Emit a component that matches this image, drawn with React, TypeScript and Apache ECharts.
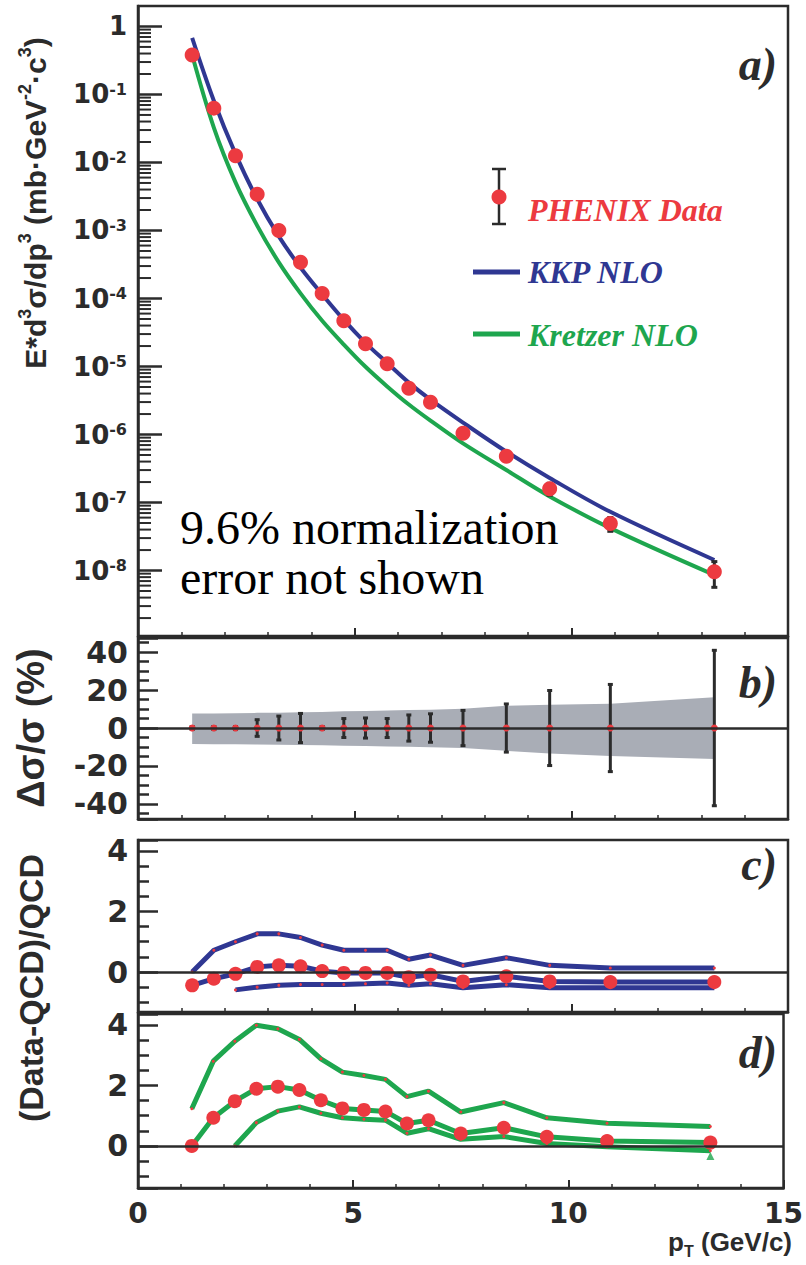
import React, { useEffect, useRef } from "react";
import * as echarts from "echarts";

// ---------------- data ----------------
const pT = [1.25, 1.75, 2.25, 2.75, 3.25, 3.75, 4.25, 4.75, 5.25, 5.75, 6.25, 6.75, 7.5, 8.5, 9.5, 10.9, 13.3];
const crossSection = [0.38, 0.063, 0.0126, 3.4e-3, 1.0e-3, 3.4e-4, 1.18e-4, 4.7e-5, 2.16e-5, 1.1e-5, 4.8e-6, 2.97e-6, 1.04e-6, 4.8e-7, 1.6e-7, 4.9e-8, 9.6e-9];
const kkpNLO = [0.68, 0.081, 0.0134, 2.9e-3, 8.2e-4, 2.86e-4, 1.15e-4, 4.85e-5, 2.23e-5, 1.13e-5, 5.8e-6, 3.26e-6, 1.5e-6, 5.6e-7, 2.3e-7, 7.3e-8, 1.43e-8];
const kretzerNLO = [0.38, 0.0326, 5.1e-3, 1.18e-3, 3.4e-4, 1.19e-4, 4.7e-5, 2.1e-5, 9.9e-6, 5.1e-6, 2.76e-6, 1.6e-6, 7.4e-7, 3.0e-7, 1.23e-7, 4.2e-8, 8.6e-9];
const statErrPct = [0.8, 0.8, 0.8, 4.4, 6.3, 7.7, 0.8, 5.0, 5.3, 5.0, 6.9, 7.5, 9.3, 12.7, 19.8, 23, 41];
const sysBandUpper = [7.6, 7.7, 7.8, 8.0, 8.1, 8.3, 8.5, 8.8, 9.0, 9.3, 9.5, 9.7, 10.2, 11.8, 12.3, 12.8, 16.2];
const sysBandLower = [-8.4, -8.5, -8.6, -8.7, -8.8, -9.0, -9.1, -9.3, -9.5, -9.7, -9.9, -10.1, -10.5, -12.0, -13.5, -14.8, -16.3];
const kkpRatio = [-0.44, -0.22, -0.06, 0.17, 0.22, 0.19, 0.03, -0.03, -0.03, -0.03, -0.17, -0.09, -0.31, -0.14, -0.31, -0.33, -0.33];
const kkpUpper = [0, 0.72, 1.0, 1.26, 1.26, 1.14, 0.89, 0.72, 0.72, 0.72, 0.42, 0.56, 0.22, 0.47, 0.22, 0.13, 0.13];
const kkpLower = [null, null, -0.59, -0.5, -0.44, -0.41, -0.41, -0.41, -0.39, -0.36, -0.44, -0.39, -0.52, -0.42, -0.52, -0.52, -0.52];
const kretzerRatio = [0, 0.93, 1.48, 1.89, 1.96, 1.85, 1.51, 1.24, 1.19, 1.14, 0.74, 0.85, 0.41, 0.6, 0.3, 0.16, 0.11];
const kretzerUpper = [1.23, 2.8, 3.46, 3.99, 3.87, 3.52, 2.88, 2.44, 2.33, 2.2, 1.63, 1.81, 1.12, 1.43, 0.93, 0.75, 0.64];
const kretzerLower = [null, null, 0, 0.77, 1.15, 1.29, 1.08, 0.93, 0.88, 0.85, 0.42, 0.57, 0.22, 0.31, 0.08, -0.03, -0.16];
const kretzerEndMarker = [13.3, -0.33];
const xTickLabels = ["0", "5", "10", "15"];

// ---------------- styling ----------------
const SANS = '"Liberation Sans", Arial, Helvetica, sans-serif';
const WIDE = '"DejaVu Sans", "Liberation Sans", Arial, sans-serif';
const SERIF = '"Liberation Serif", "Times New Roman", serif';
const INK = "#2b2b2b";
const RED = "#ec3a40";
const BLUE = "#2f3792";
const GREEN = "#1ea64e";
const BAND = "#a9adb6";

const LEFT = 138;
const WIDTH = 650;

const pairs = (ys: (number | null)[]) =>
  pT.map((x, i) => [x, ys[i]]).filter((d) => d[1] !== null) as number[][];

function logMinorTickValues(): number[] {
  const out: number[] = [];
  for (let e = -9; e <= -1; e++) {
    for (let k = 2; k <= 9; k++) {
      const v = k * Math.pow(10, e);
      if (v > 1.09e-9 && v < 2) out.push(v);
    }
  }
  return out;
}

function xAxis(gridIndex: number, showLabel: boolean) {
  return {
    type: "value",
    gridIndex,
    min: 0,
    max: 15,
    interval: 5,
    axisLine: { show: true, onZero: false, lineStyle: { color: INK, width: 2.5 } },
    axisTick: { show: true, inside: true, length: 8, lineStyle: { color: INK, width: 2 } },
    minorTick: { show: true, splitNumber: 5, length: 4, lineStyle: { color: INK, width: 1.5 } },
    splitLine: { show: false },
    axisLabel: {
      show: showLabel,
      margin: 11,
      fontSize: 28,
      fontWeight: "bold",
      fontFamily: WIDE,
      color: INK,
      formatter: (v: number) => xTickLabels[Math.round(v / 5)] ?? String(v),
    },
  };
}

function linearY(gridIndex: number, min: number, max: number, split: number, minorSplit: number) {
  return {
    type: "value",
    gridIndex,
    min,
    max,
    splitNumber: split,
    axisLine: { show: true, onZero: false, lineStyle: { color: INK, width: 2.5 } },
    axisTick: { show: true, inside: true, length: 20, lineStyle: { color: INK, width: 2.5 } },
    minorTick: { show: true, splitNumber: minorSplit, length: 11, lineStyle: { color: INK, width: 2.5 } },
    splitLine: { show: false },
    axisLabel: {
      margin: 10,
      fontSize: 30,
      fontWeight: "bold",
      fontFamily: WIDE,
      color: INK,
      showMinLabel: false,
      showMaxLabel: false,
    },
  };
}

function errorBarSeries(xi: number, yi: number, data: number[][], cap: number, z: number) {
  return {
    type: "custom",
    xAxisIndex: xi,
    yAxisIndex: yi,
    z,
    silent: true,
    data,
    renderItem: (_p: any, api: any) => {
      const x = api.value(0);
      const top = api.coord([x, api.value(2)]);
      const bot = api.coord([x, api.value(1)]);
      const st = { stroke: INK, lineWidth: 3 };
      return {
        type: "group",
        children: [
          { type: "line", shape: { x1: top[0], y1: top[1], x2: bot[0], y2: bot[1] }, style: st },
          { type: "line", shape: { x1: top[0] - cap, y1: top[1], x2: top[0] + cap, y2: top[1] }, style: st },
          { type: "line", shape: { x1: bot[0] - cap, y1: bot[1], x2: bot[0] + cap, y2: bot[1] }, style: st },
        ],
      };
    },
  };
}

const zeroLine = {
  silent: true,
  symbol: "none",
  label: { show: false },
  lineStyle: { color: INK, width: 2.5, type: "solid" },
  data: [{ yAxis: 0 }],
};

function ratioPanel(gi: number, color: string, upper: (number | null)[], central: number[], lower: (number | null)[]) {
  const bandLine = (ys: (number | null)[]) => ({
    type: "line",
    xAxisIndex: gi,
    yAxisIndex: gi,
    z: 3,
    data: pairs(ys),
    showSymbol: true,
    symbol: "circle",
    symbolSize: 3,
    itemStyle: { color: RED },
    lineStyle: { color, width: 5 },
  });
  return [
    bandLine(upper),
    bandLine(lower),
    {
      type: "line",
      xAxisIndex: gi,
      yAxisIndex: gi,
      z: 4,
      data: pairs(central),
      showSymbol: true,
      symbol: "circle",
      symbolSize: 14,
      itemStyle: { color: RED },
      lineStyle: { color, width: 5 },
      markLine: zeroLine,
    },
  ];
}

function buildOption() {
  const bandData = [[pT[0], 0]];
  const series: any[] = [
    // panel a: ROOT-style log minor ticks
    {
      type: "custom",
      xAxisIndex: 0,
      yAxisIndex: 0,
      silent: true,
      z: 1,
      data: logMinorTickValues().map((v) => [0, v]),
      renderItem: (_p: any, api: any) => {
        const p = api.coord([0, api.value(1)]);
        return {
          type: "line",
          shape: { x1: p[0], y1: p[1], x2: p[0] + 13, y2: p[1] },
          style: { stroke: INK, lineWidth: 2 },
        };
      },
    },
    {
      type: "line",
      name: "KKP NLO",
      xAxisIndex: 0,
      yAxisIndex: 0,
      z: 2,
      smooth: 0.35,
      showSymbol: false,
      data: pairs(kkpNLO),
      lineStyle: { color: BLUE, width: 4 },
    },
    {
      type: "line",
      name: "Kretzer NLO",
      xAxisIndex: 0,
      yAxisIndex: 0,
      z: 2,
      smooth: 0.35,
      showSymbol: false,
      data: pairs(kretzerNLO),
      lineStyle: { color: GREEN, width: 4 },
    },
    errorBarSeries(
      0,
      0,
      pT.map((x, i) => [x, crossSection[i] * (1 - statErrPct[i] / 100), crossSection[i] * (1 + statErrPct[i] / 100)]),
      3,
      3
    ),
    {
      type: "scatter",
      name: "PHENIX Data",
      xAxisIndex: 0,
      yAxisIndex: 0,
      z: 4,
      symbolSize: 15,
      data: pairs(crossSection),
      itemStyle: { color: RED, opacity: 1 },
    },
    // panel b
    {
      type: "custom",
      xAxisIndex: 1,
      yAxisIndex: 1,
      z: 1,
      silent: true,
      data: bandData,
      renderItem: (_p: any, api: any) => {
        const pts: number[][] = [];
        pT.forEach((x, i) => pts.push(api.coord([x, sysBandUpper[i]])));
        for (let i = pT.length - 1; i >= 0; i--) pts.push(api.coord([pT[i], sysBandLower[i]]));
        return { type: "polygon", shape: { points: pts }, style: { fill: BAND } };
      },
    },
    errorBarSeries(1, 1, pT.map((x, i) => [x, -statErrPct[i], statErrPct[i]]), 2.5, 3),
    {
      type: "scatter",
      xAxisIndex: 1,
      yAxisIndex: 1,
      z: 4,
      symbolSize: 7,
      data: pT.map((x) => [x, 0]),
      itemStyle: { color: RED, opacity: 1 },
      markLine: zeroLine,
    },
    // panel c, d
    ...ratioPanel(2, BLUE, kkpUpper, kkpRatio, kkpLower),
    ...ratioPanel(3, GREEN, kretzerUpper, kretzerRatio, kretzerLower),
    {
      type: "scatter",
      xAxisIndex: 3,
      yAxisIndex: 3,
      z: 4,
      symbol: "triangle",
      symbolSize: 8,
      data: [kretzerEndMarker],
      itemStyle: { color: GREEN },
    },
  ];

  const richSup = {
    b: { fontSize: 26, fontWeight: "bold", fontFamily: WIDE, color: INK, lineHeight: 26, padding: [12, 0, 12, 0] },
    s: { fontSize: 16, fontWeight: "bold", fontFamily: WIDE, color: INK, lineHeight: 16, verticalAlign: "top" },
  };

  const titleRich = {
    b: { fontSize: 30, fontWeight: "bold", fontFamily: SANS, fill: INK, lineHeight: 30, padding: [9, 0, 0, 0] },
    s: { fontSize: 18, fontWeight: "bold", fontFamily: SANS, fill: INK, lineHeight: 18, verticalAlign: "top" },
  };

  const panelLabel = (txt: string, y: number) => ({
    type: "text",
    x: 777,
    y,
    z: 100,
    style: {
      text: txt,
      fontFamily: SERIF,
      fontStyle: "italic",
      fontWeight: "bold",
      fontSize: 46,
      fill: INK,
      align: "right",
      verticalAlign: "middle",
    },
  });

  const legendText = (txt: string, y: number, color: string) => ({
    type: "text",
    x: 528,
    y,
    z: 100,
    style: {
      text: txt,
      fontFamily: SERIF,
      fontStyle: "italic",
      fontWeight: "bold",
      fontSize: 32,
      fill: color,
      align: "left",
      verticalAlign: "middle",
    },
  });

  const rotatedTitle = (txt: string, y: number, size: number) => ({
    type: "text",
    x: 31,
    y,
    rotation: Math.PI / 2,
    z: 100,
    style: {
      text: txt,
      fontFamily: SANS,
      fontWeight: "bold",
      fontSize: size,
      fill: INK,
      align: "center",
      verticalAlign: "middle",
    },
  });

  const graphic: any[] = [
    // legend
    { type: "line", z: 100, shape: { x1: 499, y1: 169, x2: 499, y2: 224 }, style: { stroke: INK, lineWidth: 2.5 } },
    { type: "line", z: 100, shape: { x1: 492, y1: 169, x2: 506, y2: 169 }, style: { stroke: INK, lineWidth: 2.5 } },
    { type: "line", z: 100, shape: { x1: 492, y1: 224, x2: 506, y2: 224 }, style: { stroke: INK, lineWidth: 2.5 } },
    { type: "circle", z: 101, shape: { cx: 499, cy: 197, r: 7.5 }, style: { fill: RED } },
    legendText("PHENIX Data", 210, RED),
    { type: "line", z: 100, shape: { x1: 473, y1: 272, x2: 520, y2: 272 }, style: { stroke: BLUE, lineWidth: 5 } },
    legendText("KKP NLO", 272, BLUE),
    { type: "line", z: 100, shape: { x1: 473, y1: 334, x2: 520, y2: 334 }, style: { stroke: GREEN, lineWidth: 5 } },
    legendText("Kretzer NLO", 335, GREEN),
    // panel tags
    panelLabel("a)", 64),
    panelLabel("b)", 682),
    panelLabel("c)", 864),
    panelLabel("d)", 1052),
    // normalization note
    {
      type: "text",
      x: 180,
      y: 527,
      z: 100,
      style: { text: "9.6% normalization", fontFamily: SERIF, fontSize: 48, fill: "#000", align: "left", verticalAlign: "middle" },
    },
    {
      type: "text",
      x: 180,
      y: 577,
      z: 100,
      style: { text: "error not shown", fontFamily: SERIF, fontSize: 48, fill: "#000", align: "left", verticalAlign: "middle" },
    },
    // axis titles
    {
      type: "text",
      x: 31,
      y: 203,
      rotation: Math.PI / 2,
      z: 100,
      style: {
        text: "{b|E*d}{s|3}{b|σ/dp}{s|3}{b| (mb·GeV}{s|-2}{b|·c}{s|3}{b|)}",
        rich: titleRich,
        fill: INK,
        align: "center",
        verticalAlign: "middle",
      },
    },
    rotatedTitle("Δσ/σ (%)", 728, 38),
    rotatedTitle("(Data-QCD)/QCD", 988, 34),
    {
      type: "text",
      x: 792,
      y: 1246,
      z: 100,
      style: {
        text: "{p|p}{t|T}{p| (GeV/c)}",
        rich: {
          p: { fontSize: 26, fontWeight: "bold", fontFamily: SANS, fill: INK, lineHeight: 26, padding: [0, 0, 8, 0] },
          t: { fontSize: 16, fontWeight: "bold", fontFamily: SANS, fill: INK, lineHeight: 16, verticalAlign: "bottom" },
        },
        fill: INK,
        align: "right",
        verticalAlign: "middle",
      },
    },
  ];

  const gridBase = { left: LEFT, width: WIDTH, show: true, borderColor: INK, borderWidth: 2.5, backgroundColor: "transparent" };

  return {
    animation: false,
    backgroundColor: "#ffffff",
    grid: [
      { ...gridBase, top: 6, height: 630 },
      { ...gridBase, top: 638, height: 181 },
      { ...gridBase, top: 840, height: 172 },
      { ...gridBase, top: 1014, height: 174 },
    ],
    xAxis: [xAxis(0, false), xAxis(1, false), xAxis(2, false), xAxis(3, true)],
    yAxis: [
      {
        type: "log",
        logBase: 10,
        gridIndex: 0,
        min: 1.09e-9,
        max: 2,
        splitNumber: 10,
        axisLine: { show: true, onZero: false, lineStyle: { color: INK, width: 2.5 } },
        axisTick: { show: true, inside: true, length: 24, lineStyle: { color: INK, width: 2.5 } },
        minorTick: { show: false },
        splitLine: { show: false },
        axisLabel: {
          margin: 11,
          showMinLabel: false,
          showMaxLabel: false,
          formatter: (v: number) => {
            const e = Math.round(Math.log10(v));
            return e === 0 ? "{b|1}" : `{b|10}{s|${e}}`;
          },
          rich: richSup,
        },
      },
      linearY(1, -48, 47.5, 5, 4),
      linearY(2, -1.32, 4.36, 3, 4),
      linearY(3, -1.39, 4.36, 3, 4),
    ],
    series,
    graphic,
  };
}

export default function App() {
  const ref = useRef<HTMLDivElement>(null);
  useEffect(() => {
    if (!ref.current) return;
    const chart = echarts.init(ref.current, null, { renderer: "svg" });
    chart.setOption(buildOption() as any);
    return () => chart.dispose();
  }, []);
  return (
    <div
      ref={ref}
      style={{ position: "fixed", left: 0, top: 0, width: 806, height: 1265, background: "#fff" }}
    />
  );
}
